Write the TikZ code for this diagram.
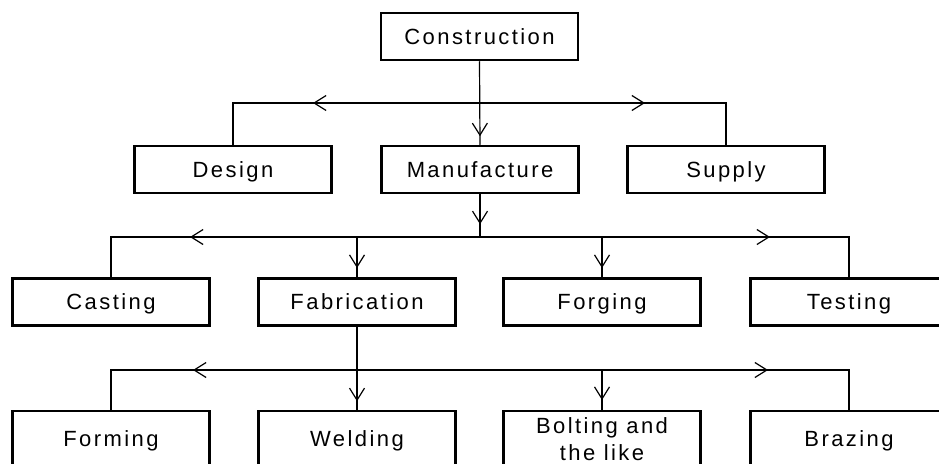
\documentclass[tikz,border=0pt]{standalone}
\usepackage{fontspec}
\newfontfamily\lbl[LetterSpace=11]{Liberation Sans}
\usetikzlibrary{arrows.meta,decorations.markings}
\tikzset{
  barb/.tip={Straight Barb[length=12pt,width=15pt]},
  box/.style={draw, line width=2.5pt, minimum width=197pt, minimum height=47pt,
    inner sep=0pt, align=center, text height=15.75pt, text depth=0pt,
    font=\lbl\fontsize{22}{26.5}\selectfont},
  lowbox/.style={box, minimum height=56pt},
  conn/.style={line width=1.2pt},
  tipat/.style={decoration={markings, mark=at position #1 with {\arrow{barb}}},
    postaction={decorate}},
}
\begin{document}
\begin{tikzpicture}[x=1pt,y=-1pt]
\useasboundingbox (0,0) rectangle (939,463);
\clip (0,0) rectangle (939,463);
% nodes
\node[box] (con) at (479.5,36.5) {Construction};
\node[box] (des) at (233,169.5) {Design};
\node[box] (man) at (480,169.5) {Manufacture};
\node[box] (sup) at (726,169.5) {Supply};
\node[box] (cas) at (111,302) {Casting};
\node[box] (fab) at (357,302) {Fabrication};
\node[box] (frg) at (602,302) {Forging};
\node[box] (tes) at (849,302) {Testing};
\node[lowbox] (frm) at (111,439) {Forming};
\node[lowbox] (wel) at (357,439) {Welding};
\node[lowbox, text height=42.25pt] (bol) at (602,439) {Bolting and\\the like};
\node[lowbox] (bra) at (849,439) {Brazing};
% bus points
\coordinate (bus1) at (480,103);
\coordinate (bus2) at (480,237);
\coordinate (bus3) at (480,370);
% level 1
\draw[conn, tipat=75pt] (con.south) -- (man.north);
\draw[conn, tipat=167pt] (bus1) -| (des.north);
\draw[conn, tipat=165pt] (bus1) -| (sup.north);
% level 2
\draw[conn, tipat=30pt] (man.south) -- (bus2);
\draw[conn, tipat=290pt] (bus2) -| (cas.north);
\draw[conn, tipat=290pt] (bus2) -| (tes.north);
\draw[conn, tipat=31pt] (fab.north |- bus2) -- (fab.north);
\draw[conn, tipat=31pt] (frg.north |- bus2) -- (frg.north);
% level 3
\draw[conn, tipat=74.5pt] (fab.south) -- (wel.north);
\draw[conn, tipat=287pt] (bus3) -| (frm.north);
\draw[conn, tipat=288pt] (bus3) -| (bra.north);
\draw[conn, tipat=30pt] (bol.north |- bus3) -- (bol.north);
\end{tikzpicture}
\end{document}
